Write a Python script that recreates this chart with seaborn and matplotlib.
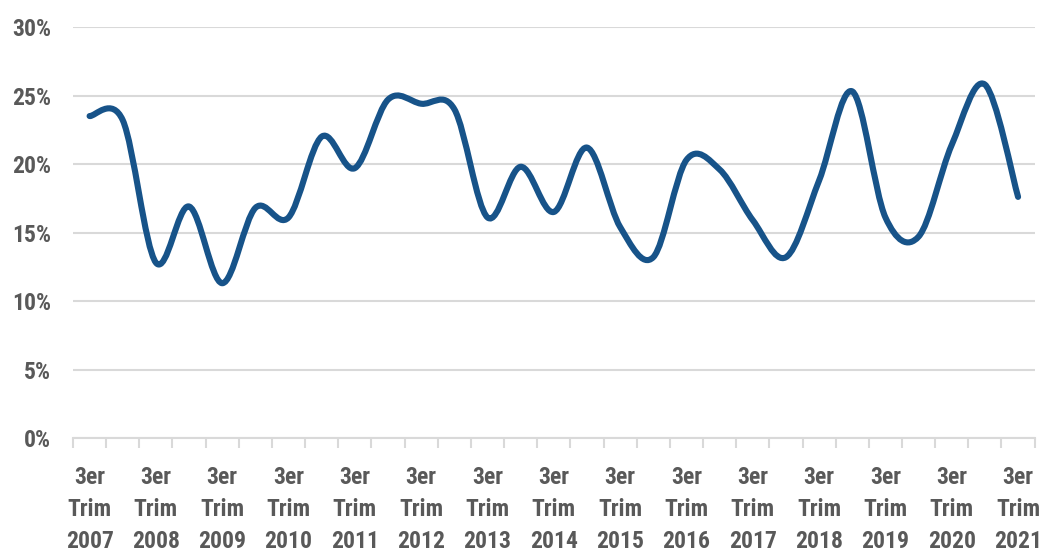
import numpy as np
import matplotlib
matplotlib.use('Agg')
import matplotlib.pyplot as plt
from matplotlib.path import Path
from matplotlib.patches import PathPatch
import matplotlib.font_manager as fm
import seaborn as sns

# Half-year observations, 3rd quarter 2007 .. 3rd quarter 2021 (percent)
values = [23.5, 23.2, 12.8, 16.9, 11.3, 16.8, 16.1, 22.0, 19.7, 24.7,
          24.4, 24.0, 16.1, 19.8, 16.5, 21.2, 15.4, 13.2, 20.3, 19.6,
          15.9, 13.2, 18.8, 25.3, 16.1, 14.7, 21.4, 25.8, 17.6]
years = list(range(2007, 2022))
tick_labels = ["3er\nTrim\n%d" % y for y in years]
yticks = [0, 5, 10, 15, 20, 25, 30]

LINE = '#175389'
GRID = '#d9d9d9'
TEXT = '#595959'


def pick_font():
    names = {f.name for f in fm.fontManager.ttflist}
    for n in ['Roboto Condensed', 'Liberation Sans Narrow', 'Roboto', 'DejaVu Sans']:
        if n in names:
            return n
    return 'DejaVu Sans'


def smooth_path(xs, ys, t=1.0 / 6):
    # Catmull-Rom style bezier segments through every data point
    pts = np.column_stack([xs, ys])
    verts = [pts[0]]
    codes = [Path.MOVETO]
    n = len(pts)
    for i in range(n - 1):
        p0 = pts[max(i - 1, 0)]
        p1 = pts[i]
        p2 = pts[i + 1]
        p3 = pts[min(i + 2, n - 1)]
        c1 = p1 + (p2 - p0) * t
        c2 = p2 - (p3 - p1) * t
        verts += [c1, c2, p2]
        codes += [Path.CURVE4] * 3
    return Path(verts, codes)


def main():
    sns.set_theme(style="white")
    plt.rcParams['font.family'] = [pick_font(), 'DejaVu Sans']

    fig = plt.figure(figsize=(10.43, 5.51), dpi=100)
    ax = fig.add_axes([0.07, 0.205, 0.922, 0.746])

    x = np.arange(len(values))
    ax.add_patch(PathPatch(smooth_path(x, values), facecolor='none',
                           edgecolor=LINE, lw=4.4, capstyle='round',
                           joinstyle='round', zorder=3))

    ax.set_xlim(-0.5, len(values) - 0.5)
    ax.set_ylim(0, 30)

    ax.set_yticks(yticks)
    ax.set_yticklabels(["%d%%" % v for v in yticks], fontweight='bold')
    ax.yaxis.grid(True, color=GRID, lw=1.5)
    ax.set_axisbelow(True)

    ax.set_xticks(x[::2])
    ax.set_xticklabels(tick_labels, linespacing=1.5, fontweight='bold')
    ax.set_xticks(np.arange(-0.5, len(values)), minor=True)
    ax.tick_params(axis='x', which='major', length=0, pad=20,
                   labelsize=17, labelcolor=TEXT)
    ax.tick_params(axis='x', which='minor', length=7, width=1.5,
                   color=GRID, direction='out', bottom=True)
    ax.tick_params(axis='y', length=0, pad=16, labelsize=17, labelcolor=TEXT)

    for s in ['top', 'right', 'left']:
        ax.spines[s].set_visible(False)
    ax.spines['bottom'].set_color(GRID)
    ax.spines['bottom'].set_linewidth(1.5)

    fig.savefig('out.png', dpi=100)


if __name__ == "__main__":
    main()
